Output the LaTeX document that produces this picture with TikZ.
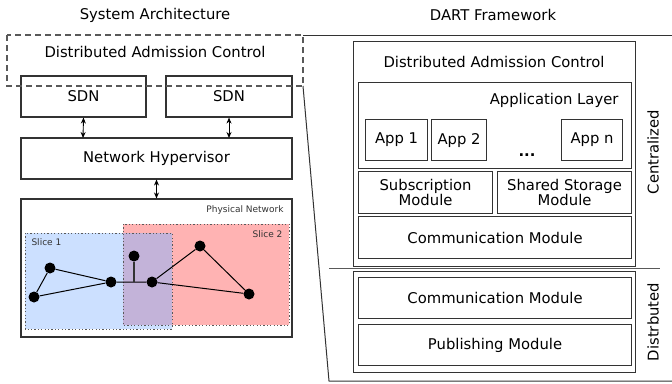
\documentclass[tikz,border=0pt]{standalone}
\usepackage{fontspec}
\setmainfont{DejaVu Sans}
\usetikzlibrary{arrows.meta}
\definecolor{sliceblue}{HTML}{CCE0FF}
\definecolor{slicered}{HTML}{FFB3B3}
\definecolor{slicepurple}{HTML}{C3B3D9}
\definecolor{boxline}{HTML}{333333}
\tikzset{
  big/.style={font=\fontsize{14.8}{17}\selectfont},
  small/.style={font=\fontsize{9}{11}\selectfont, text=boxline},
  box/.style={draw=boxline, line width=1.1pt, fill=white},
  dnode/.style={circle, fill=black, inner sep=0pt, minimum size=11pt},
  biarrow/.style={{Stealth[length=6pt,width=5pt]}-{Stealth[length=6pt,width=5pt]}, line width=0.9pt},
  slicebox/.style={draw=gray!70!black, line width=1pt, dash pattern=on 1.2pt off 2.2pt},
}
\begin{document}
\begin{tikzpicture}[x=1pt,y=-1pt]
\useasboundingbox (0,0) rectangle (672,383);
% titles
\node[big] (t1) at (155,15) {System Architecture};
\node[big] (t2) at (493,15) {DART Framework};
% zoom outline
\coordinate (z1) at (303,35);
\coordinate (z2) at (672,35);
\coordinate (z3) at (303,86);
\coordinate (z4) at (329,381);
\coordinate (z5) at (672,381);
\draw[boxline, line width=1pt] (z1) -- (z2);
\draw[boxline, line width=1pt] (z3) -- (z4) -- (z5);
% left side
\node[box, minimum width=125pt, minimum height=41pt] (sdn1) at (83.5,96.5) {};
\node[big] at (sdn1) {SDN};
\node[box, minimum width=126pt, minimum height=41pt] (sdn2) at (229,96.5) {};
\node[big] at (sdn2) {SDN};
\draw[draw=gray!70!black, line width=1.2pt, dash pattern=on 6pt off 4pt] (7,35) rectangle (303,86);
\node[big] (dac1) at (155,52) {Distributed Admission Control};
\node[box, minimum width=271pt, minimum height=41pt] (nh) at (156.5,158.5) {};
\node[big] at (nh) {Network Hypervisor};
\draw[biarrow] (sdn1.south) -- (83,138);
\draw[biarrow] (sdn2.south) -- (229,138);
\node[box, minimum width=271pt, minimum height=138pt] (pn) at (156.5,268) {};
\draw[biarrow] (nh.south) -- (pn.north);
\node[small, anchor=east] (pnl) at (287,210) {Physical Network};
% slices
\fill[sliceblue] (25,233) rectangle (172,329);
\fill[slicered] (123,224) rectangle (289,325);
\fill[slicepurple] (123,233) rectangle (172,325);
\draw[slicebox] (25,233) rectangle (172,329);
\draw[slicebox] (123,224) rectangle (289,325);
\node[small, anchor=west] (s1) at (28,242) {Slice 1};
\node[small, anchor=east] (s2) at (286,234) {Slice 2};
% graph
\node[dnode] (A) at (50,268) {};
\node[dnode] (B) at (34,297) {};
\node[dnode] (C) at (111,282) {};
\node[dnode] (D) at (134,256) {};
\node[dnode] (E) at (152,282) {};
\node[dnode] (F) at (200,246) {};
\node[dnode] (G) at (249,294) {};
\coordinate (J) at (134,282);
\draw[line width=1pt] (A) -- (B) (B) -- (C) (A) -- (C) (C) -- (E) (E) -- (F) (F) -- (G) (E) -- (G);
\draw[line width=1.4pt, boxline] (D) -- (J);
% right side
\node[box, minimum width=282pt, minimum height=225pt, anchor=north west] (cen) at (353,41) {};
\node[big] (dac2) at (494,62) {Distributed Admission Control};
\node[box, minimum width=273pt, minimum height=86pt, anchor=north west] (app) at (358,82) {};
\node[big, anchor=east] (appl) at (622,100) {Application Layer};
\node[box, minimum width=62pt, minimum height=41pt, anchor=north west] (a1) at (365,119) {};
\node[big] at (a1) {App 1};
\node[box, minimum width=55pt, minimum height=41pt, anchor=north west] (a2) at (431,119) {};
\node[big] at (a2) {App 2};
\node[box, minimum width=61pt, minimum height=41pt, anchor=north west] (an) at (561,119) {};
\node[big] at (an) {App n};
\node[big, font=\fontsize{14.8}{17}\bfseries] (dots) at (527,155) {...};
\node[box, minimum width=134pt, minimum height=42pt, anchor=north west] (sub) at (358,171) {};
\node[big, align=center, font=\fontsize{14.8}{15.5}\selectfont] at (sub) {Subscription\\Module};
\node[box, minimum width=134pt, minimum height=42pt, anchor=north west] (ss) at (497,171) {};
\node[big, align=center, font=\fontsize{14.8}{15.5}\selectfont] at (ss) {Shared Storage\\Module};
\node[box, minimum width=273pt, minimum height=42pt, anchor=north west] (cm1) at (358,216) {};
\node[big] at (cm1) {Communication Module};
\node[big, rotate=90] (cl) at (653,152) {Centralized};
\coordinate (sep1) at (329,268);
\coordinate (sep2) at (660,268);
\draw[gray!70!black, line width=1pt] (sep1) -- (sep2);
\node[box, minimum width=282pt, minimum height=101pt, anchor=north west] (dis) at (353,271) {};
\node[box, minimum width=273pt, minimum height=41pt, anchor=north west] (cm2) at (358,277) {};
\node[big] at (cm2) {Communication Module};
\node[box, minimum width=273pt, minimum height=41pt, anchor=north west] (pub) at (358,324) {};
\node[big] at (pub) {Publishing Module};
\node[big, rotate=90] (dl) at (653,322) {Distrbuted};
\end{tikzpicture}
\end{document}
